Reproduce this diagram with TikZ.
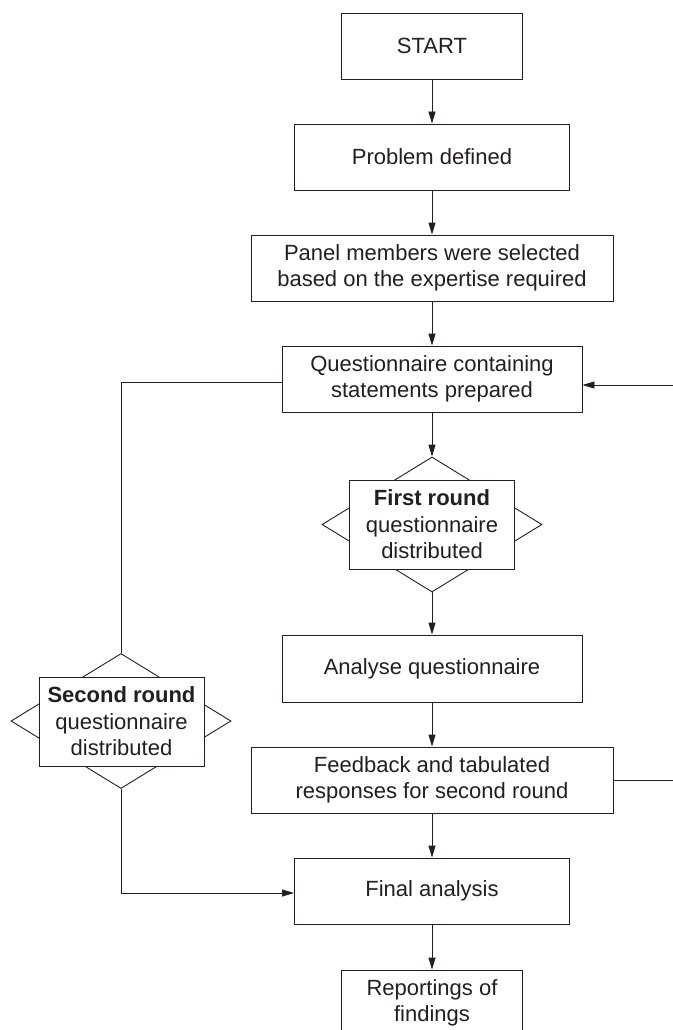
\documentclass[tikz,border=0pt]{standalone}
\usepackage{fontspec}
\setmainfont{Liberation Sans}
\usetikzlibrary{shapes.geometric,arrows.meta}
\definecolor{ink}{RGB}{35,31,32}
\begin{document}
\begin{tikzpicture}[x=1pt,y=-1pt,
  box/.style={draw=ink, line width=0.9pt, fill=white, inner sep=0pt, align=center,
    text=ink, font=\fontsize{22}{26.5}\selectfont},
  dia/.style={draw=ink, line width=0.9pt, shape=diamond, minimum width=220pt,
    minimum height=135pt, inner sep=0pt},
  arr/.style={draw=ink, line width=0.9pt, -{Triangle[length=12pt,width=7pt]}},
  link/.style={draw=ink, line width=0.9pt}]
\useasboundingbox (0,0) rectangle (672,1030);
\node[box, minimum width=181pt, minimum height=66pt] (start) at (432,46) {START};
\node[box, minimum width=275pt, minimum height=66pt] (prob) at (432,157) {Problem defined};
\node[box, minimum width=362pt, minimum height=66pt] (panel) at (432,268) {Panel members were selected\\based on the expertise required};
\node[box, minimum width=300pt, minimum height=66pt] (quest) at (432,379) {Questionnaire containing\\statements prepared};
\node[dia] (d1) at (432,524.5) {};
\node[box, minimum width=165pt, minimum height=89pt] (r1) at (432,524.5) {\textbf{First round}\\questionnaire\\distributed};
\node[box, minimum width=300pt, minimum height=67pt] (anal) at (432,668.5) {Analyse questionnaire};
\node[box, minimum width=362pt, minimum height=66pt] (fb) at (432,780) {Feedback and tabulated\\responses for second round};
\node[box, minimum width=275pt, minimum height=66pt] (final) at (432,891) {Final analysis};
\node[box, minimum width=181pt, minimum height=66pt] (rep) at (432,1003) {Reportings of\\findings};
\node[dia] (d2) at (121,721) {};
\node[box, minimum width=165pt, minimum height=89pt] (r2) at (121.5,721.5) {\textbf{Second round}\\questionnaire\\distributed};
\draw[arr] (start) -- (prob);
\draw[arr] (prob) -- (panel);
\draw[arr] (panel) -- (quest);
\draw[arr] (quest) -- (d1.north);
\draw[arr] (d1.south) -- (anal);
\draw[arr] (anal) -- (fb);
\draw[arr] (fb) -- (final);
\draw[arr] (final) -- (rep);
\draw[link] ([yshift=-3pt]quest.west) -| (d2.north);
\draw[arr] (d2.south) |- ([yshift=-2pt]final.west);
\draw[arr] (fb.east) -- ++(70,0) |- ([yshift=-6pt]quest.east);
\end{tikzpicture}
\end{document}
